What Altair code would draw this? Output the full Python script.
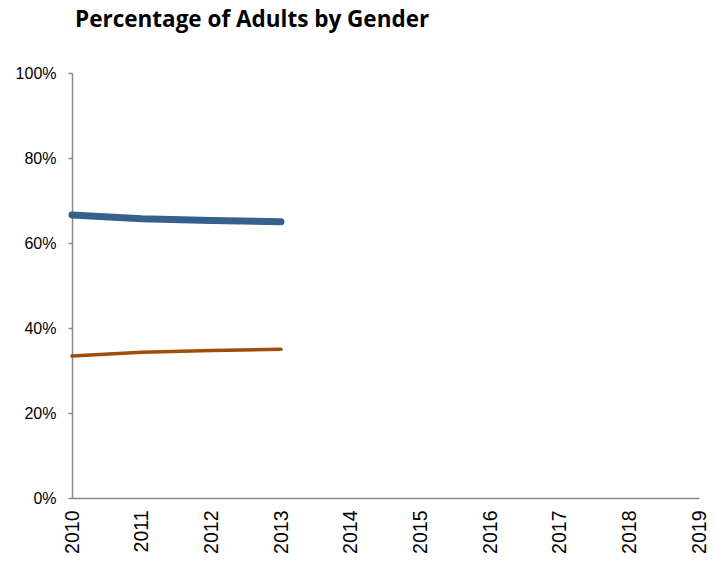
import altair as alt
import pandas as pd

years = [2010, 2011, 2012, 2013]
male = [0.666, 0.657, 0.653, 0.650]
female = [0.334, 0.343, 0.347, 0.350]
series_names = ["Men", "Women"]
colors = ["#36618F", "#A04D0A"]

df = pd.DataFrame({
    "year": years * 2,
    "value": male + female,
    "series": [series_names[0]] * len(years) + [series_names[1]] * len(years),
})

x_enc = alt.X("year:Q", scale=alt.Scale(domain=[2010, 2019], nice=False),
              axis=alt.Axis(values=list(range(2010, 2020)), format="d", labelAngle=-90,
                            labelAlign="right", labelBaseline="middle", labelFontSize=19.5,
                            labelPadding=12, ticks=False, grid=False, title=None,
                            domainColor="#888888", domainWidth=1.5, labelColor="#000000",
                            labelFont="Liberation Sans", labelOverlap=False))
y_enc = alt.Y("value:Q", scale=alt.Scale(domain=[0, 1], nice=False),
              axis=alt.Axis(values=[0, 0.2, 0.4, 0.6, 0.8, 1.0], format=".0%", grid=False,
                            title=None, tickSize=4, tickColor="#888888", tickWidth=1.5,
                            domainColor="#888888", domainWidth=1.5, labelFontSize=16,
                            labelPadding=12, labelColor="#000000", labelFont="Liberation Sans"))

men = alt.Chart(df[df.series == series_names[0]]).mark_line(
    strokeWidth=7, strokeCap="round", color=colors[0]).encode(x=x_enc, y=y_enc)
women = alt.Chart(df[df.series == series_names[1]]).mark_line(
    strokeWidth=3.5, strokeCap="round", color=colors[1]).encode(x=x_enc, y=y_enc)

chart = alt.layer(men, women).properties(
    width=627, height=425,
    title=alt.TitleParams("Percentage of Adults by Gender", anchor="start", frame="group", dx=3,
                          font="Open Sans", fontSize=22.5, fontWeight="bold", color="#000000",
                          offset=34),
    autosize=alt.AutoSizeParams(type="none"),
    padding={"left": 64, "top": 65, "right": 8, "bottom": 55},
).configure_view(stroke=None)

chart.save("out.html", embed_options={"renderer": "svg", "actions": False})
